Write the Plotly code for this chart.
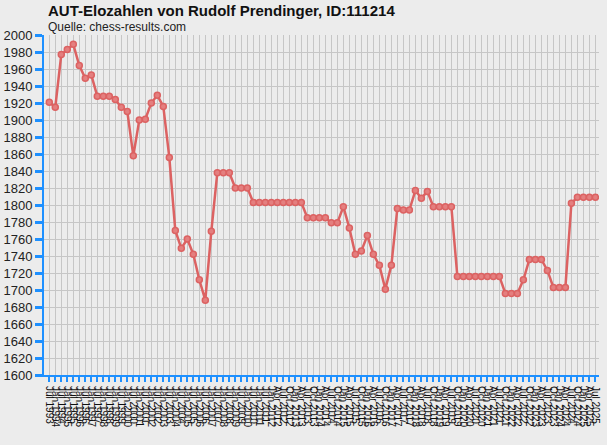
import plotly.graph_objects as go

# rating list dates (half-yearly until 2012, quarterly afterwards)
dates = [
    "Jul 1993",
    "Jan 1994", "Jul 1994", "Jan 1995", "Jul 1995", "Jan 1996", "Jul 1996",
    "Jan 1997", "Jul 1997", "Jan 1998", "Jul 1998", "Jan 1999", "Jul 1999",
    "Jan 2000", "Jul 2000", "Jan 2001", "Jul 2001", "Jan 2002", "Jul 2002",
    "Jan 2003", "Jul 2003", "Jan 2004", "Jul 2004", "Jan 2005", "Jul 2005",
    "Jan 2006", "Jul 2006", "Jan 2007", "Jul 2007", "Jan 2008", "Jul 2008",
    "Jan 2009", "Jul 2009", "Jan 2010", "Jul 2010", "Jan 2011", "Jul 2011",
    "Jan 2012", "Apr 2012", "Jul 2012", "Oct 2012",
    "Jan 2013", "Apr 2013", "Jul 2013", "Oct 2013",
    "Jan 2014", "Apr 2014", "Jul 2014", "Oct 2014",
    "Jan 2015", "Apr 2015", "Jul 2015", "Oct 2015",
    "Jan 2016", "Apr 2016", "Jul 2016", "Oct 2016",
    "Jan 2017", "Apr 2017", "Jul 2017", "Oct 2017",
    "Jan 2018", "Apr 2018", "Jul 2018", "Oct 2018",
    "Jan 2019", "Apr 2019", "Jul 2019", "Oct 2019",
    "Jan 2020", "Apr 2020", "Jul 2020", "Oct 2020",
    "Jan 2021", "Apr 2021", "Jul 2021", "Oct 2021",
    "Jan 2022", "Apr 2022", "Jul 2022", "Oct 2022",
    "Jan 2023", "Apr 2023", "Jul 2023", "Oct 2023",
    "Jan 2024", "Apr 2024", "Jul 2024", "Oct 2024",
    "Jan 2025", "Apr 2025", "Jul 2025",
]

elo = [
    1921, 1915, 1977, 1983, 1989, 1964, 1949, 1953, 1928, 1928,
    1928, 1924, 1915, 1910, 1858, 1900, 1901, 1920, 1929, 1916,
    1856, 1770, 1749, 1760, 1742, 1712, 1688, 1769, 1838, 1838,
    1838, 1820, 1820, 1820, 1803, 1803, 1803, 1803, 1803, 1803,
    1803, 1803, 1803, 1785, 1785, 1785, 1785, 1779, 1779, 1798,
    1773, 1742, 1746, 1764, 1742, 1729, 1701, 1729, 1796, 1794,
    1794, 1817, 1808, 1816, 1798, 1798, 1798, 1798, 1716, 1716,
    1716, 1716, 1716, 1716, 1716, 1716, 1696, 1696, 1696, 1712,
    1736, 1736, 1736, 1723, 1703, 1703, 1703, 1802, 1809, 1809,
    1809, 1809,
]

y_ticks = list(range(1600, 2001, 20))

title = "AUT-Elozahlen von Rudolf Prendinger, ID:111214"
source = "Quelle: chess-results.com"

BG = "#ececec"
GRID = "#c6c6c6"
AXIS = "#1e90ff"
RED = "#dc6262"

fig = go.Figure(
    go.Scatter(
        x=dates,
        y=elo,
        mode="lines+markers",
        line=dict(color=RED, width=2.5),
        marker=dict(size=6, color="#e47f7f", line=dict(color=RED, width=1.5)),
        hoverinfo="x+y",
    )
)

fig.update_layout(
    width=607,
    height=445,
    margin=dict(l=44, r=8, t=35, b=70, autoexpand=False),
    paper_bgcolor=BG,
    plot_bgcolor=BG,
    showlegend=False,
    font=dict(family="Liberation Sans, Arial, sans-serif", color="#222222"),
)

fig.update_xaxes(
    type="category",
    range=[-0.88, 91.6],
    automargin=False,
    tickmode="array",
    tickvals=dates,
    ticktext=dates,
    tickangle=90,
    tickfont=dict(size=10, color="#111111"),
    ticklabelstandoff=2,
    showgrid=True,
    gridcolor=GRID,
    gridwidth=1,
    showline=True,
    linecolor=AXIS,
    linewidth=2,
    ticks="outside",
    ticklen=5,
    tickwidth=2,
    tickcolor=AXIS,
    zeroline=False,
)

fig.update_yaxes(
    range=[1600, 2000],
    automargin=False,
    tickmode="array",
    tickvals=y_ticks,
    tickfont=dict(size=13, color="#222222"),
    showgrid=True,
    gridcolor=GRID,
    gridwidth=1,
    showline=True,
    linecolor=AXIS,
    linewidth=2,
    ticks="outside",
    ticklen=7,
    tickwidth=3,
    tickcolor=AXIS,
    zeroline=False,
)

fig.add_annotation(
    text="<b>" + title + "</b>",
    xref="paper", yref="paper",
    x=0.003, y=1.0706,
    xanchor="left", yanchor="middle",
    showarrow=False,
    font=dict(size=15, color="#111111"),
)
fig.add_annotation(
    text=source,
    xref="paper", yref="paper",
    x=0.003, y=1.0235,
    xanchor="left", yanchor="middle",
    showarrow=False,
    font=dict(size=12, color="#222222"),
)

# page body has a default 8px margin, drop it so the chart sits at 0,0
fig.write_html(
    "out.html",
    config={"displayModeBar": False},
    post_script="document.body.style.margin='0';"
    "document.body.style.background='#ececec';",
)
